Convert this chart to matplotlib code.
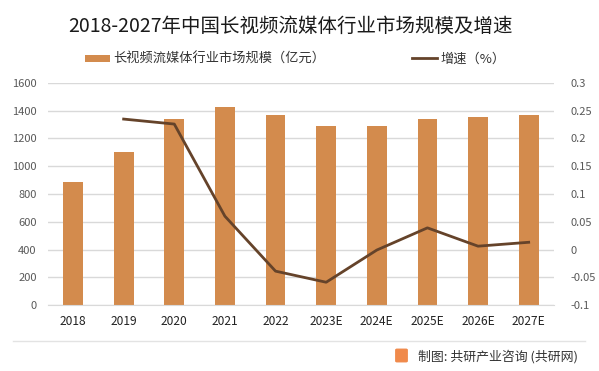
import numpy as np
import matplotlib.pyplot as plt
from matplotlib.patches import FancyBboxPatch

plt.rcParams['font.family'] = ['Noto Sans CJK SC', 'DejaVu Sans']

# Data
years = ['2018', '2019', '2020', '2021', '2022', '2023E', '2024E', '2025E', '2026E', '2027E']
market_size = [890, 1100, 1342, 1429, 1371, 1292, 1292, 1342, 1357, 1371]
growth = [None, 0.235, 0.226, 0.060, -0.039, -0.059, -0.001, 0.039, 0.006, 0.013]

BAR_COLOR = '#D38B4D'
LINE_COLOR = '#65432A'
TICK_COLOR = '#595959'

W, H = 599, 371
fig = plt.figure(figsize=(W / 100, H / 100), dpi=100)
ax = fig.add_axes([47.7 / W, 1 - 305 / H, (554 - 47.7) / W, (305 - 83) / H])

x = np.arange(len(years))
bars = ax.bar(x, market_size, width=0.39, color=BAR_COLOR, zorder=2)
ax.set_ylim(0, 1600)
ax.set_yticks(np.arange(0, 1601, 200))
ax.set_xlim(-0.5, len(years) - 0.5)
ax.set_xticks(x)
ax.set_xticklabels(years)
ax.grid(axis='y', color='#D9D9D9', linewidth=1, zorder=0)
for s in ['top', 'right', 'left']:
    ax.spines[s].set_visible(False)
ax.spines['bottom'].set_color('#D9D9D9')
ax.tick_params(axis='y', length=0, labelsize=8, colors=TICK_COLOR, pad=8)
ax.tick_params(axis='x', length=0, labelsize=8.6, colors='#222222', pad=7)

ax2 = ax.twinx()
gx = [i for i, g in enumerate(growth) if g is not None]
gy = [g for g in growth if g is not None]
line, = ax2.plot(gx, gy, color=LINE_COLOR, linewidth=2, zorder=3)
ax2.set_ylim(-0.1, 0.3)
ax2.set_yticks([-0.1, -0.05, 0, 0.05, 0.1, 0.15, 0.2, 0.25, 0.3])
ax2.set_yticklabels(['-0.1', '-0.05', '0', '0.05', '0.1', '0.15', '0.2', '0.25', '0.3'])
for s in ax2.spines.values():
    s.set_visible(False)
ax2.tick_params(axis='y', length=0, labelsize=8, colors=TICK_COLOR, pad=12)

fig.text(290 / W, 1 - 26 / H, '2018-2027年中国长视频流媒体行业市场规模及增速',
         ha='center', va='center', fontsize=14, color='#1a1a1a')

# two legend entries placed separately, like the reference
leg_y = 1 - 59.5 / H
fig.legend([bars], ['长视频流媒体行业市场规模（亿元）'], loc='center left',
           bbox_to_anchor=(85 / W, leg_y), frameon=False, fontsize=9.5,
           borderpad=0, borderaxespad=0, handlelength=1.9, handleheight=0.5,
           handletextpad=0.25, labelcolor='#333333')
fig.legend([line], ['增速（%）'], loc='center left',
           bbox_to_anchor=(412 / W, leg_y), frameon=False, fontsize=9.5,
           borderpad=0, borderaxespad=0, handlelength=1.9,
           handletextpad=0.25, labelcolor='#333333')

# footer rule and source
fig.add_artist(plt.Line2D([13 / W, 585 / W], [1 - 341 / H, 1 - 341 / H],
                          color='#E3E3E3', linewidth=1))
fig.add_artist(FancyBboxPatch((397 / W, 1 - 361 / H), 9 / W, 11 / H,
                              boxstyle='round,pad=0.002', color='#F08A4B'))
fig.text(418 / W, 1 - 357 / H, '制图: 共研产业咨询 (共研网)',
         ha='left', va='center', fontsize=9.3, color='#333333')

fig.savefig('out.png', dpi=100)
